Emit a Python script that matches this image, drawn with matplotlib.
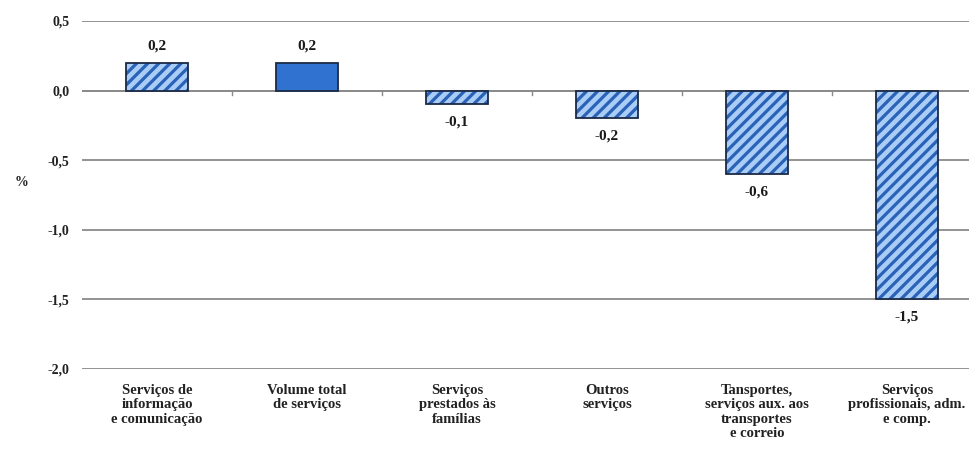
import matplotlib.pyplot as plt
import numpy as np

categories = [
    "Serviços de\ninformação\ne comunicação",
    "Volume total\nde serviços",
    "Serviços\nprestados às\nfamílias",
    "Outros\nserviços",
    "Tansportes,\nserviços aux. aos\ntransportes\ne correio",
    "Serviços\nprofissionais, adm.\ne comp.",
]
values = [0.2, 0.2, -0.1, -0.2, -0.6, -1.5]
highlight = [False, True, False, False, False, False]
yticks = [0.5, 0.0, -0.5, -1.0, -1.5, -2.0]

plt.rcParams["font.family"] = ["Liberation Serif", "DejaVu Serif"]
plt.rcParams["font.weight"] = "bold"
plt.rcParams["hatch.linewidth"] = 2.3

fig = plt.figure(figsize=(9.7, 4.55), dpi=100)
ax = fig.add_axes([82 / 970, 0.189, 900 / 970, 0.765])

x = np.arange(len(categories))
w = 0.41

for xi, v, h in zip(x, values, highlight):
    if h:
        ax.bar(xi, v, width=w, color="#2F72CF", edgecolor="#1B2A47",
               linewidth=1.3, zorder=3)
    else:
        ax.bar(xi, v, width=w, color="#A9CDF6", edgecolor="#2A62B8",
               hatch="///", linewidth=0, zorder=3)
        ax.bar(xi, v, width=w, fill=False, edgecolor="#1B2A47",
               linewidth=1.3, zorder=4)
    off = 7 if v > 0 else -8
    ax.annotate(f"{v:.1f}".replace(".", ","), (xi, v),
                xytext=(0, off), textcoords="offset points",
                ha="center", va="bottom" if v > 0 else "top",
                fontsize=11, fontweight="bold", color="#1a1a1a")

ax.set_xlim(-0.5, len(categories) - 0.5)
ax.set_ylim(-2.0, 0.5)
ax.set_yticks(yticks)
ax.set_yticklabels([f"{t:.1f}".replace(".", ",") for t in yticks],
                   fontsize=10, color="#222222")
ax.set_xticks(x)
ax.set_xticklabels(categories, fontsize=10.5, color="#222222",
                   linespacing=1.12, va="top")
ax.tick_params(axis="both", length=0)
ax.tick_params(axis="x", pad=11)
ax.tick_params(axis="y", pad=9)

ax.yaxis.grid(True, color="#8a8a8a", linewidth=1.3, zorder=0)
for s in ax.spines.values():
    s.set_visible(False)
ax.axhline(0, color="#8a8a8a", linewidth=1.3, zorder=2)
for b in x[:-1] + 0.5:
    ax.plot([b, b], [0, -0.03], color="#8a8a8a", linewidth=1, zorder=2)

fig.text(15 / 970, 1 - 183 / 455, "%", fontsize=10, color="#222222",
         ha="left", va="center")

fig.savefig("out.png", dpi=100)
